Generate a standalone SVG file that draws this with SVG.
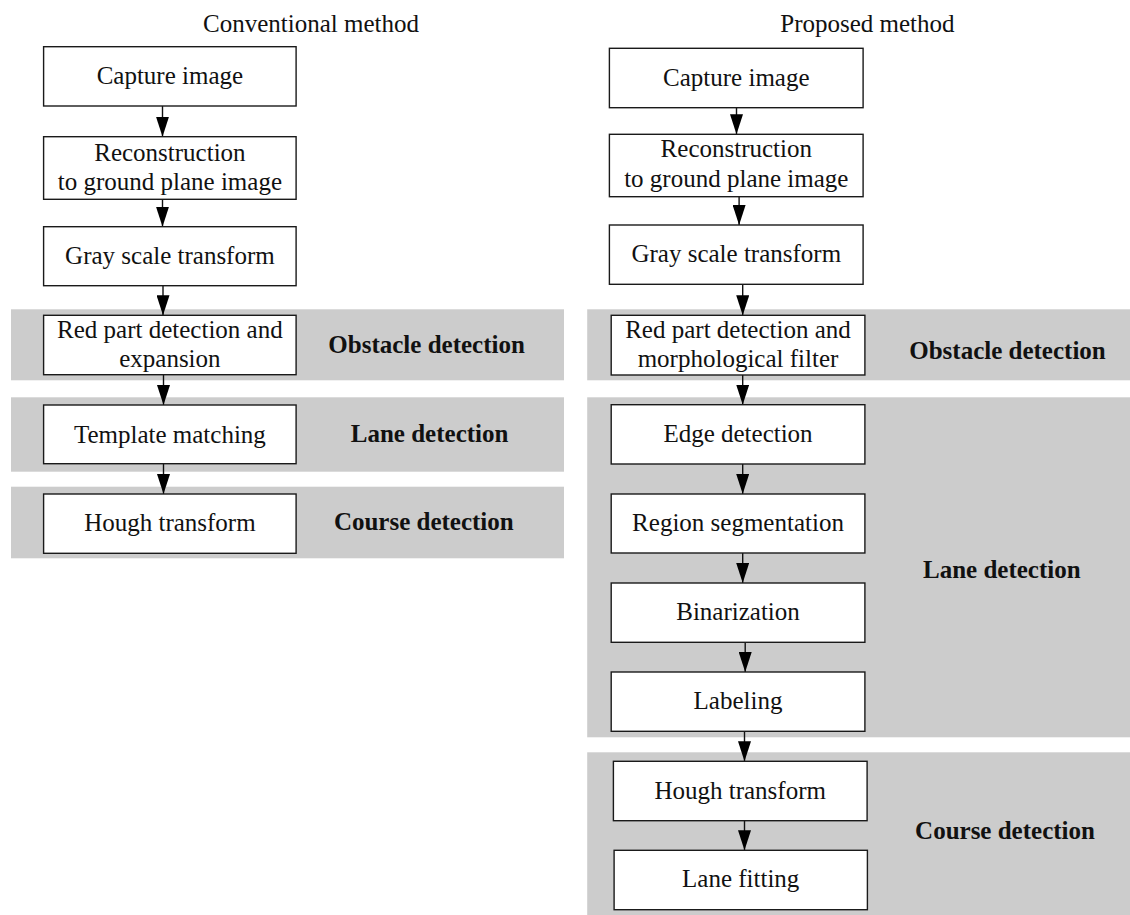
<svg xmlns="http://www.w3.org/2000/svg" width="1130" height="915" viewBox="0 0 1130 915">
<style>
.band{fill:#cccccc;stroke:none}
.box{fill:#ffffff;stroke:#1a1a1a;stroke-width:1.4}
.t{font-family:"Liberation Serif","Times New Roman",serif;font-size:25px;fill:#111;text-anchor:middle}
.b{font-weight:bold}
.conn line{stroke:#111;stroke-width:1.4;marker-end:url(#ah)}
</style>
<defs>
<marker id="ah" viewBox="0 0 20 13" refX="20" refY="6.5" markerWidth="20" markerHeight="13" markerUnits="userSpaceOnUse" orient="auto">
<path d="M0,0 L20,6.5 L0,13 z" fill="#000"/>
</marker>
</defs>
<rect width="1130" height="915" fill="#ffffff"/>
<g id="bands">
<rect class="band" x="11" y="309.3" width="553" height="71"/>
<rect class="band" x="11" y="397.3" width="553" height="74.4"/>
<rect class="band" x="11" y="486.7" width="553" height="71.6"/>
<rect class="band" x="587.2" y="309.3" width="542.8" height="71"/>
<rect class="band" x="587.2" y="397.3" width="542.8" height="340"/>
<rect class="band" x="587.2" y="752.3" width="542.8" height="162.7"/>
</g>
<g id="titles">
<text class="t" x="311" y="32">Conventional method</text>
<text class="t" x="867.4" y="32">Proposed method</text>
</g>
<g id="stage-labels">
<text class="t b" x="426.6" y="352.7">Obstacle detection</text>
<text class="t b" x="429.6" y="441.7">Lane detection</text>
<text class="t b" x="423.8" y="530">Course detection</text>
<text class="t b" x="1007.5" y="359">Obstacle detection</text>
<text class="t b" x="1001.8" y="578.3">Lane detection</text>
<text class="t b" x="1005" y="839.3">Course detection</text>
</g>
<g class="conn" id="connectors">
<line x1="162.5" y1="106" x2="162.5" y2="136.7"/>
<line x1="162.5" y1="199.3" x2="162.5" y2="226.7"/>
<line x1="163" y1="285.7" x2="163" y2="315.3"/>
<line x1="163.5" y1="374.7" x2="163.5" y2="405"/>
<line x1="163.5" y1="463.7" x2="163.5" y2="494"/>
<line x1="736.5" y1="107.7" x2="736.5" y2="134.3"/>
<line x1="739.1" y1="196.7" x2="739.1" y2="225"/>
<line x1="742.7" y1="284.3" x2="742.7" y2="315.3"/>
<line x1="742.7" y1="375" x2="742.7" y2="404.7"/>
<line x1="742.7" y1="464" x2="742.7" y2="494"/>
<line x1="742.7" y1="553" x2="742.7" y2="583"/>
<line x1="745.2" y1="642.3" x2="745.2" y2="672"/>
<line x1="744.5" y1="731.3" x2="744.5" y2="761.3"/>
<line x1="744.5" y1="820.7" x2="744.5" y2="850.3"/>
</g>
<g id="c-capture"><rect class="box" x="43.6" y="46.7" width="252.5" height="59.3"/><text class="t" x="169.9" y="83.5">Capture image</text></g>
<g id="c-reconstruct"><rect class="box" x="43.6" y="136.7" width="252.5" height="62.6"/><text class="t" x="169.9" y="161">Reconstruction</text><text class="t" x="169.9" y="190">to ground plane image</text></g>
<g id="c-gray"><rect class="box" x="43.6" y="226.7" width="252.5" height="59"/><text class="t" x="169.9" y="264.3">Gray scale transform</text></g>
<g id="c-red"><rect class="box" x="43.6" y="315.3" width="252.5" height="59.4"/><text class="t" x="169.9" y="338.3">Red part detection and</text><text class="t" x="169.9" y="367.3">expansion</text></g>
<g id="c-template"><rect class="box" x="43.6" y="405" width="252.5" height="58.7"/><text class="t" x="169.9" y="442.7">Template matching</text></g>
<g id="c-hough"><rect class="box" x="43.6" y="494" width="252.5" height="59.3"/><text class="t" x="169.9" y="530.7">Hough transform</text></g>
<g id="p-capture"><rect class="box" x="609.4" y="48.3" width="253.7" height="59.4"/><text class="t" x="736.3" y="86">Capture image</text></g>
<g id="p-reconstruct"><rect class="box" x="609.4" y="134.3" width="253.7" height="62.4"/><text class="t" x="736.3" y="157.3">Reconstruction</text><text class="t" x="736.3" y="187.3">to ground plane image</text></g>
<g id="p-gray"><rect class="box" x="609.4" y="225" width="253.7" height="59.3"/><text class="t" x="736.3" y="261.7">Gray scale transform</text></g>
<g id="p-red"><rect class="box" x="611.2" y="315.3" width="253.7" height="59.7"/><text class="t" x="738" y="337.7">Red part detection and</text><text class="t" x="738" y="367.3">morphological filter</text></g>
<g id="p-edge"><rect class="box" x="611.2" y="404.7" width="253.7" height="59.3"/><text class="t" x="738" y="441.7">Edge detection</text></g>
<g id="p-region"><rect class="box" x="611.2" y="494" width="253.7" height="59"/><text class="t" x="738" y="530.7">Region segmentation</text></g>
<g id="p-binarization"><rect class="box" x="611.2" y="583" width="253.7" height="59.3"/><text class="t" x="738" y="620">Binarization</text></g>
<g id="p-labeling"><rect class="box" x="611.2" y="672" width="253.7" height="59.3"/><text class="t" x="738" y="709">Labeling</text></g>
<g id="p-hough"><rect class="box" x="613.4" y="761.3" width="253.7" height="59.4"/><text class="t" x="740.2" y="799">Hough transform</text></g>
<g id="p-fitting"><rect class="box" x="614.1" y="850.3" width="253.3" height="59.4"/><text class="t" x="740.7" y="887.3">Lane fitting</text></g>
</svg>
